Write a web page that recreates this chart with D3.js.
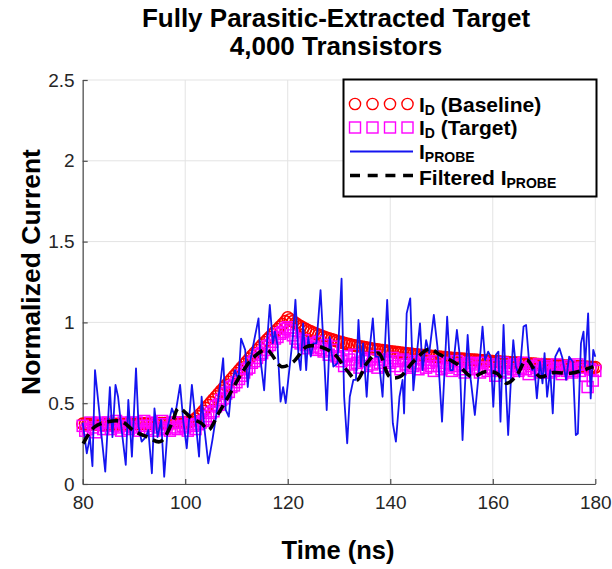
<!DOCTYPE html>
<html>
<head>
<meta charset="utf-8">
<script src="https://cdn.jsdelivr.net/npm/d3@7"></script>
<style>
  body { margin: 0; background: #fff; }
  svg text { font-family: "Liberation Sans", Arial, Helvetica, sans-serif; }
</style>
</head>
<body>
<svg id="chart" width="612" height="569"></svg>
<script>
// ---- data ----------------------------------------------------------------
// drain current sampled every 0.5 ns from 80 ns to 180 ns
const sampleStart = 80;
const sampleStep = 0.5;

const baselineCurrent = [
  0.372,0.371,0.371,0.370,0.370,0.370,0.369,0.369,0.369,0.369,
  0.369,0.369,0.370,0.370,0.370,0.370,0.371,0.371,0.371,0.372,
  0.372,0.372,0.373,0.373,0.373,0.374,0.374,0.374,0.375,0.375,
  0.375,0.376,0.376,0.377,0.377,0.378,0.378,0.379,0.379,0.380,
  0.381,0.383,0.387,0.394,0.404,0.418,0.434,0.451,0.469,0.487,
  0.505,0.523,0.541,0.559,0.577,0.595,0.613,0.631,0.649,0.667,
  0.685,0.703,0.721,0.739,0.757,0.775,0.793,0.810,0.827,0.844,
  0.861,0.877,0.893,0.909,0.925,0.941,0.957,0.973,0.989,1.006,
  1.030,1.018,1.006,0.995,0.985,0.975,0.966,0.958,0.950,0.943,
  0.936,0.929,0.923,0.917,0.911,0.905,0.900,0.895,0.890,0.885,
  0.880,0.876,0.872,0.868,0.864,0.860,0.857,0.854,0.851,0.848,
  0.845,0.842,0.839,0.837,0.834,0.832,0.829,0.827,0.825,0.822,
  0.820,0.818,0.816,0.814,0.812,0.810,0.808,0.806,0.805,0.803,
  0.801,0.799,0.798,0.796,0.794,0.793,0.791,0.790,0.788,0.787,
  0.785,0.784,0.782,0.781,0.779,0.778,0.777,0.775,0.774,0.773,
  0.771,0.770,0.769,0.768,0.766,0.765,0.764,0.763,0.762,0.760,
  0.759,0.758,0.757,0.756,0.755,0.754,0.753,0.752,0.751,0.750,
  0.749,0.748,0.747,0.746,0.745,0.744,0.743,0.742,0.741,0.740,
  0.739,0.738,0.737,0.736,0.735,0.734,0.733,0.732,0.731,0.731,
  0.730,0.729,0.728,0.727,0.726,0.726,0.725,0.724,0.723,0.722,
  0.722
];

const targetCurrent = [
  0.36,0.33,0.34,0.38,0.35,0.32,0.37,0.38,0.34,0.36,
  0.38,0.34,0.36,0.39,0.35,0.33,0.38,0.36,0.34,0.38,
  0.35,0.38,0.33,0.36,0.39,0.34,0.36,0.38,0.33,0.37,
  0.35,0.39,0.34,0.37,0.33,0.38,0.35,0.34,0.38,0.36,
  0.35,0.33,0.37,0.36,0.34,0.37,0.38,0.39,0.40,0.42,
  0.44,0.45,0.48,0.49,0.52,0.53,0.56,0.57,0.60,0.61,
  0.63,0.65,0.67,0.69,0.71,0.72,0.75,0.76,0.78,0.80,
  0.81,0.83,0.85,0.86,0.88,0.90,0.91,0.93,0.94,0.96,
  0.97,0.95,0.92,0.90,0.88,0.87,0.89,0.86,0.84,0.87,
  0.85,0.83,0.88,0.84,0.82,0.86,0.80,0.83,0.85,0.79,
  0.78,0.76,0.73,0.79,0.77,0.74,0.80,0.75,0.72,0.78,
  0.76,0.73,0.77,0.74,0.79,0.72,0.75,0.77,0.73,0.76,
  0.75,0.78,0.73,0.76,0.71,0.77,0.74,0.72,0.76,0.73,
  0.75,0.71,0.74,0.77,0.72,0.75,0.73,0.70,0.76,0.73,
  0.71,0.75,0.72,0.74,0.70,0.73,0.76,0.71,0.74,0.69,
  0.73,0.75,0.71,0.74,0.72,0.69,0.75,0.72,0.70,0.74,
  0.71,0.67,0.73,0.70,0.75,0.72,0.69,0.73,0.71,0.74,
  0.70,0.72,0.75,0.71,0.68,0.73,0.70,0.72,0.74,0.69,
  0.71,0.73,0.69,0.72,0.70,0.74,0.71,0.68,0.72,0.70,
  0.73,0.69,0.71,0.74,0.70,0.72,0.67,0.60,0.71,0.64,
  0.70
];

// probe current (raw measurement)
const probeTime = [
  80.0,80.8,81.4,81.9,82.4,83.2,83.7,84.4,85.3,85.8,86.4,86.9,87.6,88.4,88.9,89.6,
  90.4,90.9,91.5,92.3,92.8,93.5,94.0,94.6,95.3,95.9,96.6,97.4,98.0,99.0,99.6,
  100.3,101.3,102.0,102.7,103.2,103.7,104.5,105.3,106.1,107.0,107.4,107.9,108.5,109.1,109.7,
  110.4,110.9,111.7,112.2,112.6,113.4,114.3,114.7,115.4,115.9,116.5,117.1,117.5,118.0,118.6,119.1,119.6,
  120.3,121.0,121.5,122.1,122.5,123.0,123.6,124.0,124.5,125.0,125.6,126.4,127.1,127.6,128.2,128.9,129.7,
  130.5,131.0,131.6,132.1,132.8,133.3,133.8,134.3,134.7,135.4,135.9,136.6,137.1,137.7,138.5,139.4,139.9,
  140.5,141.1,141.8,142.4,142.7,143.2,143.9,144.5,145.2,145.8,146.3,147.0,147.6,148.5,149.2,149.6,
  150.1,150.6,151.1,151.7,152.2,153.0,153.5,154.1,154.6,155.1,155.7,156.5,157.2,158.0,158.5,159.1,159.6,
  160.1,160.6,161.1,161.5,162.1,162.6,163.0,163.6,164.0,164.5,165.2,166.0,166.5,167.0,167.7,168.1,168.6,169.2,169.7,
  170.1,170.6,171.2,171.7,172.2,173.0,173.6,174.3,174.9,175.6,176.2,176.6,177.2,177.7,178.0,178.6,179.1,179.6,180.0
];
const probeCurrent = [
  0.38,0.19,0.29,0.11,0.705,0.458,0.29,0.076,0.60,0.29,0.613,0.54,0.334,0.118,0.52,0.169,
  0.716,0.355,0.262,0.29,0.334,0.066,0.468,0.29,0.396,0.045,0.355,0.468,0.417,0.613,0.396,
  0.221,0.613,0.396,0.169,0.54,0.355,0.128,0.272,0.437,0.664,0.778,0.458,0.417,0.623,0.705,
  0.644,0.90,0.83,0.60,0.747,0.88,1.025,0.767,0.58,0.85,1.108,0.87,0.943,0.86,0.51,0.60,0.50,
  0.705,0.91,1.14,0.788,0.705,0.994,0.705,0.91,0.788,0.87,0.87,1.20,0.788,0.458,0.91,0.726,0.747,
  1.27,0.54,0.252,0.54,0.644,0.644,1.015,0.726,0.87,0.54,0.81,1.025,0.788,0.788,0.54,1.14,0.788,
  0.376,0.262,0.54,0.644,0.437,1.056,1.149,0.58,0.81,0.994,0.705,0.89,0.81,1.046,0.85,0.644,
  0.386,0.705,1.035,0.705,0.705,0.953,0.81,0.272,0.623,0.922,0.644,0.427,0.664,0.974,0.767,0.819,0.788,
  0.478,0.80,0.819,0.386,0.984,0.58,0.303,0.685,0.89,0.726,0.664,0.974,0.984,0.788,0.705,0.726,0.53,0.757,0.623,
  0.81,0.54,0.705,0.437,0.788,0.84,0.778,0.644,0.788,0.757,0.303,0.313,0.87,0.943,0.726,1.056,0.53,0.83,0.788
];

// low-pass filtered probe current
const filteredTime = [
  80.1,81.0,82.4,85.0,87.6,90.2,92.5,95.1,97.4,98.7,101.3,103.2,104.5,106.5,109.1,111.0,113.2,115.9,118.8,
  121.1,123.7,126.6,129.2,131.5,133.5,135.4,137.7,139.9,141.9,144.5,147.6,149.7,151.7,153.3,155.9,158.5,
  160.8,162.7,164.7,166.6,169.2,171.8,175.1,177.7,179.6
];
const filteredCurrent = [
  0.25,0.30,0.355,0.386,0.386,0.324,0.293,0.262,0.375,0.468,0.406,0.375,0.334,0.437,0.58,0.685,0.78,0.83,0.726,
  0.757,0.85,0.846,0.80,0.705,0.643,0.747,0.81,0.664,0.664,0.757,0.835,0.80,0.767,0.736,0.664,0.695,
  0.685,0.623,0.674,0.767,0.664,0.689,0.685,0.705,0.726
];

const xTickValues = [80, 100, 120, 140, 160, 180];
const yTickValues = [0, 0.5, 1, 1.5, 2, 2.5];
const titleLines = ["Fully Parasitic-Extracted Target", "4,000 Transistors"];

// ---- layout ---------------------------------------------------------------
const svg = d3.select("#chart");
const plot = { left: 82.7, right: 595.3, top: 80, bottom: 484 };

const x = d3.scaleLinear().domain([80, 180]).range([plot.left, plot.right]);
const y = d3.scaleLinear().domain([0, 2.5]).range([plot.bottom, plot.top]);

const sampleTimes = baselineCurrent.map((_, i) => sampleStart + i * sampleStep);

// grid
const grid = svg.append("g").attr("stroke", "#e3e3e3").attr("stroke-width", 1);
grid.selectAll("line.gx").data(xTickValues).join("line")
  .attr("x1", d => x(d)).attr("x2", d => x(d))
  .attr("y1", plot.top).attr("y2", plot.bottom);
grid.selectAll("line.gy").data(yTickValues).join("line")
  .attr("x1", plot.left).attr("x2", plot.right)
  .attr("y1", d => y(d)).attr("y2", d => y(d));

// axes (ticks point inward)
const xAxis = d3.axisBottom(x).tickValues(xTickValues).tickSizeInner(-5).tickSizeOuter(0).tickPadding(12)
  .tickFormat(d3.format("d"));
const yAxis = d3.axisLeft(y).tickValues(yTickValues).tickSizeInner(-5).tickSizeOuter(0).tickPadding(8)
  .tickFormat(d => d3.format("")(d));

const gx = svg.append("g").attr("transform", `translate(0,${plot.bottom})`).call(xAxis);
const gy = svg.append("g").attr("transform", `translate(${plot.left},0)`).call(yAxis);
[gx, gy].forEach(g => {
  g.select(".domain").attr("stroke", "#4d4d4d").attr("stroke-width", 1.2);
  g.selectAll(".tick line").attr("stroke", "#4d4d4d").attr("stroke-width", 1.2);
  g.selectAll(".tick text").attr("fill", "#262626").attr("font-size", 19)
    .attr("font-family", "'Liberation Sans', Arial, sans-serif");
});

// baseline drain current: red circles
svg.append("g").selectAll("circle").data(baselineCurrent).join("circle")
  .attr("cx", (d, i) => x(sampleTimes[i]))
  .attr("cy", d => y(d))
  .attr("r", 5.8)
  .attr("fill", "none").attr("stroke", "#ff0000").attr("stroke-width", 1.6);

// target drain current: magenta squares
const sq = 11;
svg.append("g").selectAll("rect").data(targetCurrent).join("rect")
  .attr("x", (d, i) => x(sampleTimes[i]) - sq / 2)
  .attr("y", d => y(d) - sq / 2)
  .attr("width", sq).attr("height", sq)
  .attr("fill", "none").attr("stroke", "#ff00ff").attr("stroke-width", 1.5);

// probe current: blue line
const probeLine = d3.line().x(d => x(d[0])).y(d => y(d[1]));
svg.append("path")
  .datum(probeTime.map((t, i) => [t, probeCurrent[i]]))
  .attr("d", probeLine)
  .attr("fill", "none").attr("stroke", "#1414f0").attr("stroke-width", 1.8)
  .attr("stroke-linejoin", "round");

// filtered probe current: black dashed
const filtLine = d3.line().x(d => x(d[0])).y(d => y(d[1])).curve(d3.curveCatmullRom.alpha(0.5));
svg.append("path")
  .datum(filteredTime.map((t, i) => [t, filteredCurrent[i]]))
  .attr("d", filtLine)
  .attr("fill", "none").attr("stroke", "#000").attr("stroke-width", 3.6)
  .attr("stroke-dasharray", "11,6");

// title
svg.append("text")
  .attr("x", 336).attr("y", 27)
  .attr("text-anchor", "middle").attr("font-weight", "bold").attr("font-size", 26)
  .selectAll("tspan").data(titleLines).join("tspan")
  .attr("x", 336).attr("dy", (d, i) => i === 0 ? 0 : 28)
  .text(d => d);

// axis labels
svg.append("text")
  .attr("x", 338).attr("y", 559)
  .attr("text-anchor", "middle").attr("font-weight", "bold").attr("font-size", 25.5)
  .text("Time (ns)");
svg.append("text")
  .attr("transform", "translate(40,272) rotate(-90)")
  .attr("text-anchor", "middle").attr("font-weight", "bold").attr("font-size", 26.5)
  .text("Normalized Current");

// legend
const legend = svg.append("g");
legend.append("rect")
  .attr("x", 343.5).attr("y", 79.5).attr("width", 253).attr("height", 117)
  .attr("fill", "#fff").attr("stroke", "#000").attr("stroke-width", 2);

const legendRows = [104, 127.5, 151.5, 177];
const markerXs = [355, 372.5, 390, 407.5];

legend.selectAll("circle").data(markerXs).join("circle")
  .attr("cx", d => d).attr("cy", legendRows[0]).attr("r", 5.6)
  .attr("fill", "none").attr("stroke", "#ff0000").attr("stroke-width", 1.4);
legend.selectAll("rect.m").data(markerXs).join("rect").attr("class", "m")
  .attr("x", d => d - 5.5).attr("y", legendRows[1] - 5.5).attr("width", 11).attr("height", 11)
  .attr("fill", "none").attr("stroke", "#ff00ff").attr("stroke-width", 1.4);
legend.append("line")
  .attr("x1", 350).attr("x2", 413).attr("y1", legendRows[2]).attr("y2", legendRows[2])
  .attr("stroke", "#1414f0").attr("stroke-width", 2);
legend.append("line")
  .attr("x1", 350).attr("x2", 413).attr("y1", legendRows[3] - 1.5).attr("y2", legendRows[3] - 1.5)
  .attr("stroke", "#000").attr("stroke-width", 3.6).attr("stroke-dasharray", "10,7.7");

const legendLabels = [
  { main: "I", sub: "D", rest: " (Baseline)" },
  { main: "I", sub: "D", rest: " (Target)" },
  { main: "I", sub: "PROBE", rest: "" },
  { main: "Filtered I", sub: "PROBE", rest: "" }
];
legendLabels.forEach((lab, i) => {
  const t = legend.append("text")
    .attr("x", 419).attr("y", legendRows[i] + 7.5)
    .attr("font-weight", "bold").attr("font-size", 21).attr("fill", "#000");
  t.append("tspan").text(lab.main);
  t.append("tspan").attr("font-size", 14).attr("dy", 3).text(lab.sub);
  if (lab.rest) t.append("tspan").attr("dy", -3).text(lab.rest);
});
</script>
</body>
</html>
